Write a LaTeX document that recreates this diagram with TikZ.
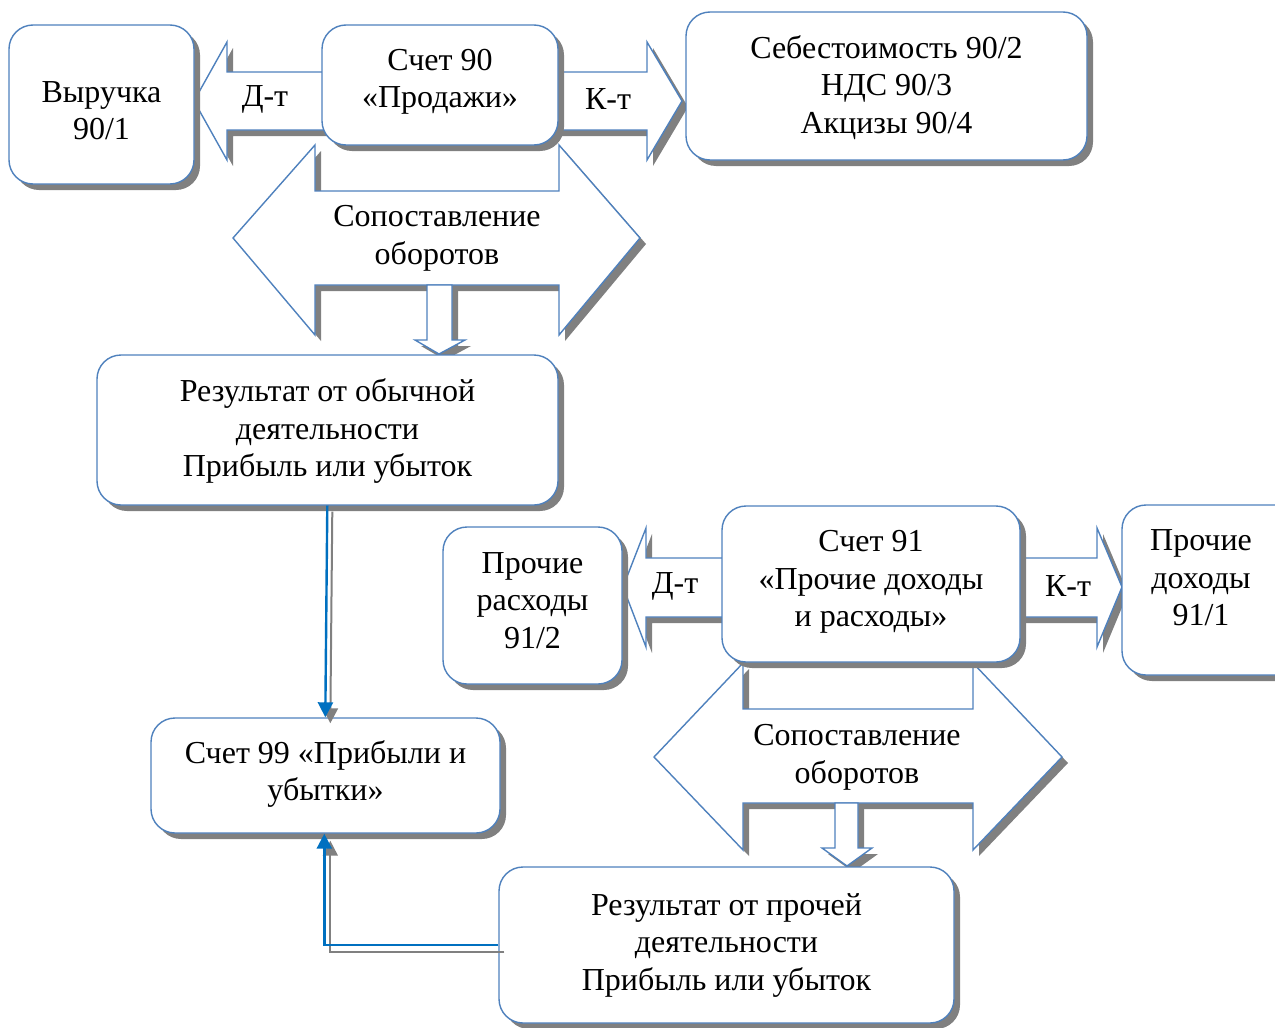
\documentclass[tikz,border=0pt]{standalone}
\usepackage{fontspec}
\setmainfont{Liberation Serif}
\usetikzlibrary{shadows,arrows.meta}
\definecolor{bl}{RGB}{79,129,189}
\definecolor{cn}{RGB}{0,112,192}
\definecolor{sh}{RGB}{128,128,128}
\tikzset{
 shd/.style={drop shadow={shadow xshift=6pt,shadow yshift=-6pt,fill=sh,opacity=1}},
 blk/.style={draw=bl,line width=1.4pt,fill=white,shd},
 bx/.style={draw=bl,line width=1.4pt,fill=white,rounded corners=24pt,shd,rectangle,inner sep=0pt},
 txt/.style={font=\fontsize{32}{37.5}\selectfont,align=center,inner sep=0pt},
 conn/.style={draw=cn,line width=2.4pt,-{Triangle[length=15pt,width=15pt]}},
 cshd/.style={draw=sh,line width=2pt,-{Triangle[length=15pt,width=15pt]}}
}
\begin{document}
\begin{tikzpicture}[x=1pt,y=-1pt]
\useasboundingbox (0,0) rectangle (1275,1028);
% ---- block arrows, account 90
\draw[blk] (194,101) -- (227,42) -- (227,72) -- (340,72) -- (340,130) -- (227,130) -- (227,160) -- cycle;
\draw[blk] (682,101) -- (647,42) -- (647,72) -- (540,72) -- (540,130) -- (647,130) -- (647,160) -- cycle;
\draw[blk] (233,238) -- (315,145) -- (315,191) -- (559,191) -- (559,145) -- (640,238) -- (559,335) -- (559,285) -- (315,285) -- (315,335) -- cycle;
\draw[blk] (427,285) -- (452,285) -- (452,340) -- (465,340) -- (439,354) -- (415,340) -- (427,340) -- cycle;
% ---- block arrows, account 91
\draw[blk] (623,587) -- (646,528) -- (646,558) -- (740,558) -- (740,617) -- (646,617) -- (646,647) -- cycle;
\draw[blk] (1122,587) -- (1097,528) -- (1097,558) -- (1000,558) -- (1000,617) -- (1097,617) -- (1097,647) -- cycle;
\draw[blk] (654,757) -- (743,663) -- (743,709) -- (973,709) -- (973,663) -- (1062,757) -- (973,850) -- (973,803) -- (743,803) -- (743,850) -- cycle;
\draw[blk] (835,803) -- (858,803) -- (858,848) -- (872,848) -- (847,866) -- (822,848) -- (835,848) -- cycle;
% ---- arrow labels
\node[txt] (dt1) at (265,99) {Д-т};
\node[txt] (kt1) at (608,99) {К-т};
\node[txt] (cmp1) at (437,238.5) {Сопоставление\\оборотов};
\node[txt] (dt2) at (675,586) {Д-т};
\node[txt] (kt2) at (1068,586) {К-т};
\node[txt] (cmp2) at (857,757.5) {Сопоставление\\оборотов};
% ---- boxes
\node[bx,minimum width=185pt,minimum height=159pt] (vyr) at (101.5,104.5) {};
\node[txt] (vyrt) at ([yshift=-6pt]vyr.center) {Выручка\\90/1};
\node[bx,minimum width=236pt,minimum height=120pt] (s90) at (440,85) {};
\node[txt] (s90t) at ([yshift=3pt]s90.center) {Счет 90\\«Продажи»};
\node[bx,minimum width=401pt,minimum height=148pt] (seb) at (886.5,86) {};
\node[txt] (sebt) at ([yshift=-1.5pt]seb.center) {Себестоимость 90/2\\НДС 90/3\\Акцизы 90/4};
\node[bx,minimum width=461pt,minimum height=150pt] (rez1) at (327.5,430) {};
\node[txt] (rez1t) at ([yshift=-1pt]rez1.center) {Результат от обычной\\деятельности\\Прибыль или убыток};
\node[bx,minimum width=349pt,minimum height=115pt] (s99) at (325.5,775.5) {};
\node[txt] (s99t) at ([yshift=1.5pt]s99.center) {Счет 99 «Прибыли и\\убытки»};
\node[bx,minimum width=179pt,minimum height=157pt] (pr) at (532.5,605.5) {};
\node[txt] (prt) at ([yshift=5pt]pr.center) {Прочие\\расходы\\91/2};
\node[bx,minimum width=298pt,minimum height=156pt] (s91) at (871,584) {};
\node[txt] (s91t) at ([yshift=2pt]s91.center) {Счет 91\\«Прочие доходы\\и расходы»};
\node[bx,minimum width=178pt,minimum height=170pt] (pd) at (1211,590) {};
\node[txt] (pdt) at (1201,578) {Прочие\\доходы\\91/1};
\node[bx,minimum width=455pt,minimum height=156pt] (rez2) at (726.5,945) {};
\node[txt] (rez2t) at (rez2.center) {Результат от прочей\\деятельности\\Прибыль или убыток};
% ---- connectors
\draw[cshd,transform canvas={xshift=5pt,yshift=-6pt}] ([xshift=231pt]rez1.south west) -- ([xshift=175pt]s99.north west);
\draw[conn] ([xshift=231pt]rez1.south west) -- ([xshift=175pt]s99.north west);
\draw[cshd,transform canvas={xshift=6pt,yshift=-7pt}] (rez2.west) -| ([xshift=174pt]s99.south west);
\draw[conn] (rez2.west) -| ([xshift=174pt]s99.south west);
\end{tikzpicture}
\end{document}
